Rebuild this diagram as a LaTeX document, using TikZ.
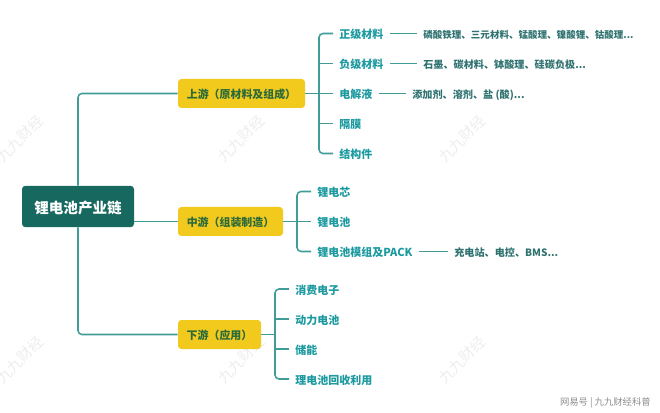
\documentclass[tikz,border=0pt]{standalone}
\usepackage{fontspec}
\setmainfont{Noto Sans CJK SC}
\definecolor{rootgreen}{HTML}{17695F}
\definecolor{linkteal}{HTML}{3F9C98}
\definecolor{stageyellow}{HTML}{F2CA1E}
\definecolor{stagetext}{HTML}{2C6A3A}
\definecolor{parttext}{HTML}{1C9AA0}
\definecolor{detailtext}{HTML}{2F7270}
\tikzset{
    link/.style={draw=linkteal, line width=1.15pt, rounded corners=3pt},
    rootbox/.style={fill=rootgreen, text=white, font=\bfseries\fontsize{10.9pt}{12pt}\selectfont, rounded corners=2.5pt,
        minimum width=84pt, minimum height=31pt, inner sep=0pt, text height=10.9pt, text depth=0.5pt},
    stagebox/.style={fill=stageyellow, text=stagetext, font=\bfseries\fontsize{8.2pt}{10pt}\selectfont, rounded corners=2.5pt,
        minimum height=21.75pt, inner sep=0pt, text height=8.2pt, text depth=0.4pt},
    part/.style={anchor=west, text=parttext, font=\bfseries\fontsize{8.25pt}{10pt}\selectfont, inner xsep=4.5pt, inner ysep=0pt,
        text height=8.25pt, text depth=0.4pt},
    detail/.style={anchor=west, text=detailtext, font=\bfseries\fontsize{7.6pt}{10pt}\selectfont, inner xsep=4.5pt, inner ysep=0pt,
        text height=7.6pt, text depth=0.4pt},
    wmark/.style={text=black!7, rotate=45, font=\fontsize{11pt}{12pt}\selectfont},
}
\begin{document}
\begin{tikzpicture}[x=0.75pt, y=-0.75pt]
    \useasboundingbox (0,0) rectangle (660,413);
    % watermarks
    \foreach \mx/\my [count=\i] in {20/139, 241/139, 462/139, 20/360, 241/360, 462/360}
        \node[wmark] (wmark\i) at (\mx,\my) {九九财经};
    \node[anchor=east, text=black!45, font=\fontsize{7pt}{8pt}\selectfont, inner sep=0pt] (source) at (651,403) {网易号 | 九九财经科普};

    \node[rootbox] (root) at (78,206.5) {锂电池产业链};
    \node[stagebox, minimum width=95.25pt] (up) at (241.5,93.5) {上游（原材料及组成）};
    \node[stagebox, minimum width=78.75pt] (mid) at (230.5,221.5) {中游（组装制造）};
    \node[stagebox, minimum width=62.25pt] (down) at (219.5,334.5) {下游（应用）};

    % upstream
    \node[part] (cathode) at (333,33.5) {正级材料};
    \node[part] (anode) at (333,63.5) {负级材料};
    \node[part] (electrolyte) at (333,93.5) {电解液};
    \node[part] (separator) at (333,123.5) {隔膜};
    \node[part] (structure) at (333,153.5) {结构件};
    \node[detail, font=\bfseries\fontsize{7.15pt}{10pt}\selectfont] (cathodeinfo) at (417,33.5) {磷酸铁理、三元材料、锰酸理、镍酸锂、钴酸理...};
    \node[detail] (anodeinfo) at (417,63.5) {石墨、碳材料、钵酸理、硅碳负极...};
    \node[detail] (electrolyteinfo) at (406,93.5) {添加剂、溶剂、盐 (酸)...};

    % midstream
    \node[part] (cell) at (311,191.5) {锂电芯};
    \node[part] (battery) at (311,221.5) {锂电池};
    \node[part] (pack) at (311,251.5) {锂电池模组及PACK};
    \node[detail] (packinfo) at (448,251.5) {充电站、电控、BMS...};

    % downstream
    \node[part] (consumer) at (289,289) {消费电子};
    \node[part] (power) at (289,319) {动力电池};
    \node[part] (storage) at (289,349) {储能};
    \node[part] (recycle) at (289,379) {理电池回收利用};

    \coordinate (upspine) at (319,93.5);
    \coordinate (midspine) at (297,221.5);
    \coordinate (downspine) at (275,334.5);

    \draw[link] (root.north) |- (up.west);
    \draw[link] (root.east |- mid.west) -- (mid.west);
    \draw[link] (root.south) |- (down.west);

    \draw[link] (up.east) -- (upspine);
    \draw[link] (cathode.west) -| (upspine) |- (structure.west);
    \foreach \n in {anode, electrolyte, separator}
        \draw[link] (upspine |- \n.west) -- (\n.west);
    \draw[link] (mid.east) -- (battery.west);
    \draw[link] (cell.west) -| (midspine) |- (pack.west);
    \draw[link] (down.east) -- (downspine);
    \draw[link] (consumer.west) -| (downspine) |- (recycle.west);
    \foreach \n in {power, storage}
        \draw[link] (downspine |- \n.west) -- (\n.west);

    \draw[link] (cathode.east) -- (cathode.east -| cathodeinfo.west);
    \draw[link] (anode.east) -- (anode.east -| anodeinfo.west);
    \draw[link] (electrolyte.east) -- (electrolyte.east -| electrolyteinfo.west);
    \draw[link] (pack.east) -- (pack.east -| packinfo.west);
\end{tikzpicture}
\end{document}
